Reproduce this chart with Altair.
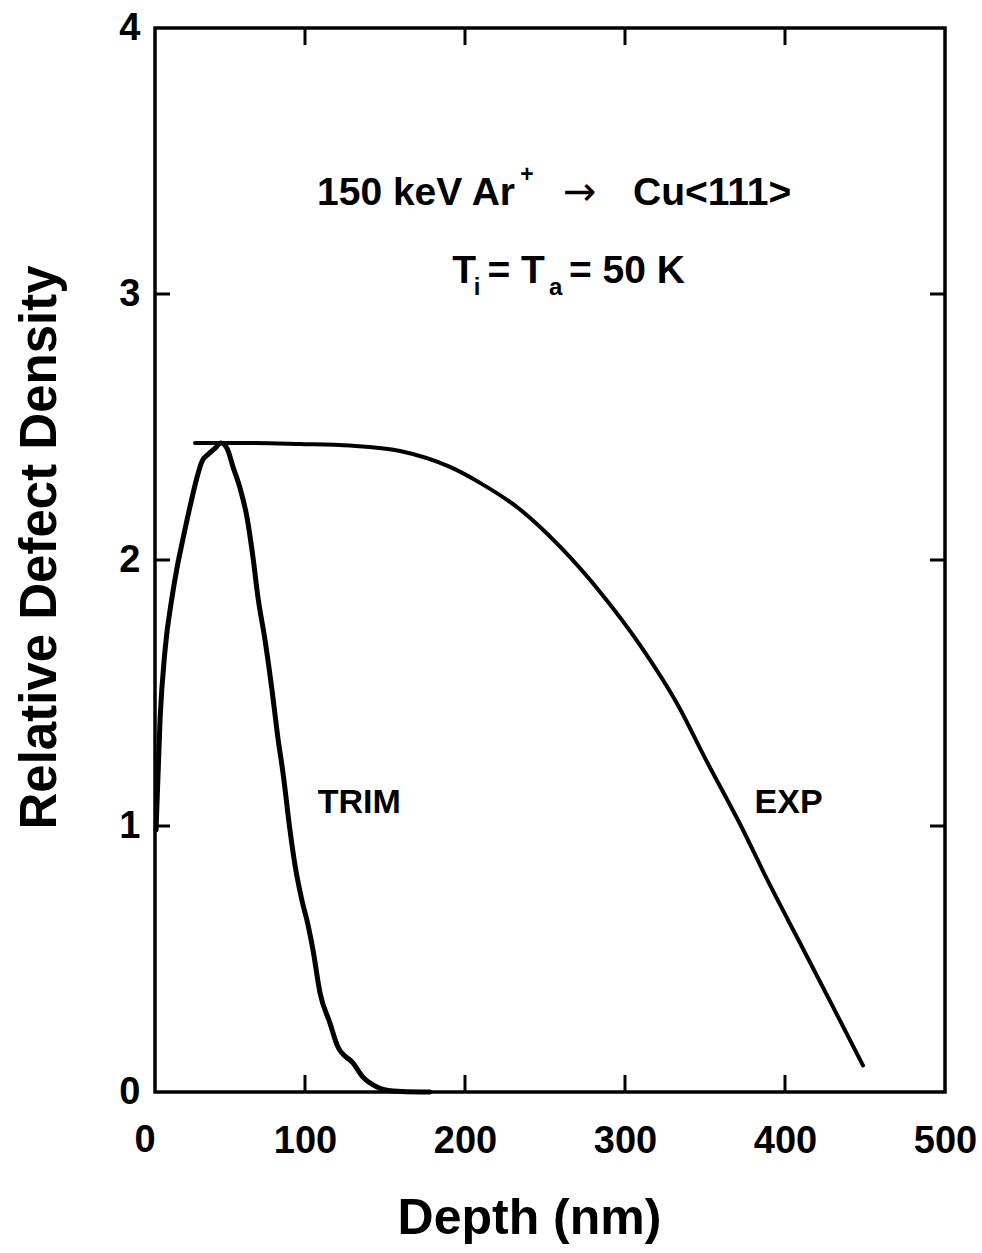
import altair as alt
import pandas as pd

# ---- data ----
trim_x = [6.9, 9.4, 12.5, 16.9, 20.0, 23.75, 28.1, 32.5, 35.6, 40.0, 43.75, 47.5, 51.25, 55.0,
          59.4, 63.75, 67.5, 70.6, 75.0, 79.4, 83.1, 86.25, 90.6, 93.75, 98.1, 101.9, 105.0,
          109.4, 115.6, 120.6, 130.0, 136.25, 145.0, 155.0, 171.9, 178.0]
trim_y = [0.985, 1.40, 1.66, 1.86, 1.97, 2.08, 2.20, 2.31, 2.37, 2.40, 2.42, 2.44, 2.42, 2.35,
          2.27, 2.16, 2.01, 1.86, 1.70, 1.51, 1.33, 1.20, 0.985, 0.853, 0.72, 0.628, 0.534,
          0.372, 0.259, 0.169, 0.109, 0.056, 0.019, 0.004, 0.0, 0.0]

exp_x = [31.25, 65.6, 96.9, 128.1, 159.4, 190.6, 209.4, 234.4, 259.4, 284.4, 309.4, 334.4,
         348.75, 373.75, 388.75, 409.4, 430.0, 448.75]
exp_y = [2.44, 2.44, 2.436, 2.43, 2.41, 2.35, 2.29, 2.19, 2.05, 1.88, 1.68, 1.44,
         1.27, 0.985, 0.80, 0.56, 0.32, 0.10]

x_tick_values = [0, 100, 200, 300, 400, 500]
y_tick_values = [0, 1, 2, 3, 4]
x_inner_ticks = [100, 200, 300, 400]
y_inner_ticks = [1, 2, 3]
x_origin_label = ["0"]
x_origin_value = [0]

ann_text = ["150 keV Ar", "+", "Cu<111>", "T", "i", "= T", "a", "= 50 K", "TRIM", "EXP"]
ann_x = [107.5, 234.5, 305.0, 192.0, 205.5, 214.0, 252.5, 265.0, 108.0, 381.0]
ann_y = [3.335, 3.42, 3.335, 3.041, 2.996, 3.041, 2.996, 3.041, 1.05, 1.05]
ann_size = [39, 23, 39, 39, 24, 39, 24, 39, 34, 34]

arrow_text = ["\u2192"]
arrow_x = [261.25]
arrow_y = [3.335]

FONT = "Liberation Sans"
W, H = 790, 1064

trim_df = pd.DataFrame({"x": trim_x, "y": trim_y})
exp_df = pd.DataFrame({"x": exp_x, "y": exp_y})
ann_df = pd.DataFrame({"t": ann_text, "x": ann_x, "y": ann_y, "fs": ann_size})
arrow_df = pd.DataFrame({"t": arrow_text, "x": arrow_x, "y": arrow_y})
xt_df = pd.DataFrame({"x": x_inner_ticks})
yt_df = pd.DataFrame({"y": y_inner_ticks})
x0_df = pd.DataFrame({"t": x_origin_label, "x": x_origin_value})

xscale = alt.Scale(domain=[6.25, 500], nice=False, zero=False)
yscale = alt.Scale(domain=[0, 4], nice=False)

xaxis = alt.Axis(values=x_tick_values, title="Depth (nm)", ticks=False, tickSize=0, domain=False,
                 grid=False, labelFont=FONT, labelFontSize=38, labelFontWeight="bold",
                 labelColor="black", labelBaseline="alphabetic", labelPadding=60,
                 labelFlush=False, labelOverlap=False,
                 titleFont=FONT, titleFontSize=50, titleFontWeight="bold", titleColor="black",
                 titleX=374, titleY=141, titleBaseline="alphabetic", titleAlign="center")
yaxis = alt.Axis(values=y_tick_values, format="d", title="Relative Defect Density", ticks=False,
                 tickSize=0, domain=False, grid=False, labelFont=FONT, labelFontSize=38,
                 labelFontWeight="bold", labelColor="black", labelPadding=15,
                 labelFlush=False, labelOverlap=False,
                 titleFont=FONT, titleFontSize=51, titleFontWeight="bold", titleColor="black",
                 titleX=-89, titleY=519, titleAngle=-90, titleBaseline="bottom",
                 titleAlign="center")

trim_line = alt.Chart(trim_df).mark_line(color="black", strokeWidth=5, interpolate="monotone",
                                         strokeJoin="round", strokeCap="round").encode(
    x=alt.X("x:Q", scale=xscale, axis=xaxis),
    y=alt.Y("y:Q", scale=yscale, axis=yaxis),
)
exp_line = alt.Chart(exp_df).mark_line(color="black", strokeWidth=4, interpolate="monotone",
                                       strokeCap="round").encode(
    x=alt.X("x:Q", scale=xscale),
    y=alt.Y("y:Q", scale=yscale),
)

tick_b = alt.Chart(xt_df).mark_rule(color="black", strokeWidth=3).encode(
    x=alt.X("x:Q", scale=xscale), y=alt.value(H), y2=alt.value(H - 17))
tick_t = alt.Chart(xt_df).mark_rule(color="black", strokeWidth=3).encode(
    x=alt.X("x:Q", scale=xscale), y=alt.value(0), y2=alt.value(17))
tick_l = alt.Chart(yt_df).mark_rule(color="black", strokeWidth=3).encode(
    y=alt.Y("y:Q", scale=yscale), x=alt.value(0), x2=alt.value(15))
tick_r = alt.Chart(yt_df).mark_rule(color="black", strokeWidth=3).encode(
    y=alt.Y("y:Q", scale=yscale), x=alt.value(W), x2=alt.value(W - 15))

x0_label = alt.Chart(x0_df).mark_text(font=FONT, fontWeight="bold", fontSize=38, color="black",
                                      align="center", baseline="alphabetic").encode(
    x=alt.X("x:Q", scale=xscale), y=alt.value(H + 60), text="t:N")

ann = alt.Chart(ann_df).mark_text(font=FONT, fontWeight="bold", color="black", align="left",
                                  baseline="alphabetic").encode(
    x=alt.X("x:Q", scale=xscale),
    y=alt.Y("y:Q", scale=yscale),
    text="t:N",
    size=alt.Size("fs:Q", scale=None, legend=None),
)
arrow = alt.Chart(arrow_df).mark_text(font="DejaVu Sans", fontSize=40, color="black",
                                      align="left", baseline="alphabetic").encode(
    x=alt.X("x:Q", scale=xscale),
    y=alt.Y("y:Q", scale=yscale),
    text="t:N",
)

chart = alt.layer(trim_line, exp_line, tick_b, tick_t, tick_l, tick_r, x0_label, ann,
                  arrow).properties(
    width=W, height=H,
    autosize=alt.AutoSizeParams(type="none"),
    padding={"left": 155, "top": 28, "right": 37, "bottom": 161},
    background="white",
).configure_view(stroke="black", strokeWidth=3.5)

chart.save("out.html", embed_options={"renderer": "svg", "actions": False})
